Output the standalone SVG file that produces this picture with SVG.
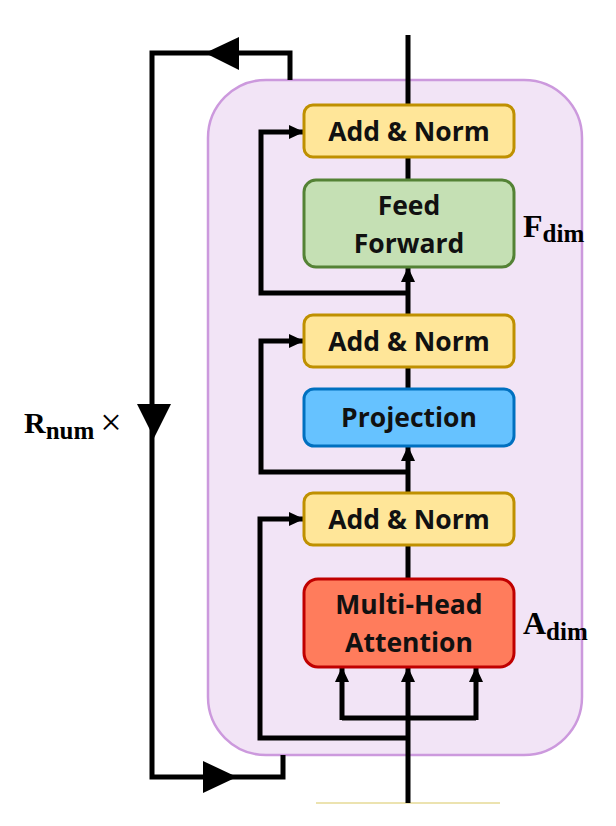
<svg xmlns="http://www.w3.org/2000/svg" width="616" height="826" viewBox="0 0 616 826">
<defs>
<marker id="ah" markerUnits="userSpaceOnUse" markerWidth="20" markerHeight="20" viewBox="0 0 20 20" refX="19" refY="10" orient="auto">
<polygon points="4,3 19,10 4,17" fill="#000"/>
</marker>
</defs>
<style>
.ln{fill:none;stroke:#000;stroke-width:5;stroke-linejoin:miter}
.arr{marker-end:url(#ah)}
.bx{stroke-width:3}
.an{fill:#ffe699;stroke:#bf9000}
.ff{fill:#c5e0b4;stroke:#548235}
.pj{fill:#66c2ff;stroke:#0070c0}
.mh{fill:#ff7c5c;stroke:#c00000}
.t{font-family:"Open Sans","Noto Sans",sans-serif;font-weight:bold;font-size:26.5px;fill:#111;text-anchor:middle}
.m{font-family:"Liberation Serif",serif;font-weight:bold;fill:#000}
</style>
<g id="block">
<rect x="208" y="80" width="374" height="675" rx="58" fill="#f2e4f6" stroke="#cc99dd" stroke-width="2.5"/>
</g>
<line x1="316" y1="803" x2="500" y2="803" stroke="#ece3b0" stroke-width="2"/>
<g id="connectors">
<line class="ln" x1="408" y1="35" x2="408" y2="105"/>
<line class="ln" x1="408" y1="157" x2="408" y2="180"/>
<line class="ln arr" x1="408" y1="315" x2="408" y2="267"/>
<polyline class="ln arr" points="408,293 261,293 261,132 304,132"/>
<line class="ln" x1="408" y1="367" x2="408" y2="389"/>
<line class="ln arr" x1="408" y1="493" x2="408" y2="446"/>
<polyline class="ln arr" points="408,472 261,472 261,341 304,341"/>
<line class="ln" x1="408" y1="545" x2="408" y2="579"/>
<polyline class="ln arr" points="408,738 260,738 260,519 304,519"/>
<line class="ln arr" x1="408" y1="803" x2="408" y2="667"/>
<polyline class="ln" points="342,718 476,718"/>
<line class="ln arr" x1="342" y1="720" x2="342" y2="667"/>
<line class="ln arr" x1="476" y1="720" x2="476" y2="667"/>
<polyline class="ln" points="290,80 290,53 152,53 152,777 283,777 283,755"/>
<polygon points="205,53 239,37 239,70" fill="#000"/>
<polygon points="154,438 137,404 171,404" fill="#000"/>
<polygon points="237,777 203,761 203,793" fill="#000"/>
</g>
<g id="addnorm1"><rect class="bx an" x="304" y="105" width="210" height="52" rx="9"/><text class="t" x="409" y="141">Add &amp; Norm</text></g>
<g id="feedforward"><rect class="bx ff" x="304" y="180" width="210" height="87" rx="12"/><text class="t" x="409" y="215">Feed</text><text class="t" x="409" y="253">Forward</text></g>
<g id="addnorm2"><rect class="bx an" x="304" y="315" width="210" height="52" rx="9"/><text class="t" x="409" y="351">Add &amp; Norm</text></g>
<g id="projection"><rect class="bx pj" x="304" y="389" width="210" height="57" rx="10"/><text class="t" x="409" y="427">Projection</text></g>
<g id="addnorm3"><rect class="bx an" x="304" y="493" width="210" height="52" rx="9"/><text class="t" x="409" y="529">Add &amp; Norm</text></g>
<g id="mha"><rect class="bx mh" x="304" y="579" width="210" height="88" rx="14"/><text class="t" x="409" y="614">Multi-Head</text><text class="t" x="409" y="652">Attention</text></g>
<g id="labels">
<text class="m" x="523" y="237" font-size="32">F<tspan font-size="25" dy="5">dim</tspan></text>
<text class="m" x="523" y="634" font-size="32">A<tspan font-size="25" dy="6">dim</tspan></text>
<text class="m" x="24" y="433" font-size="30">R<tspan font-size="25" dy="6">num</tspan><tspan font-weight="normal" font-size="38" dy="-4" dx="6">×</tspan></text>
</g>
</svg>
